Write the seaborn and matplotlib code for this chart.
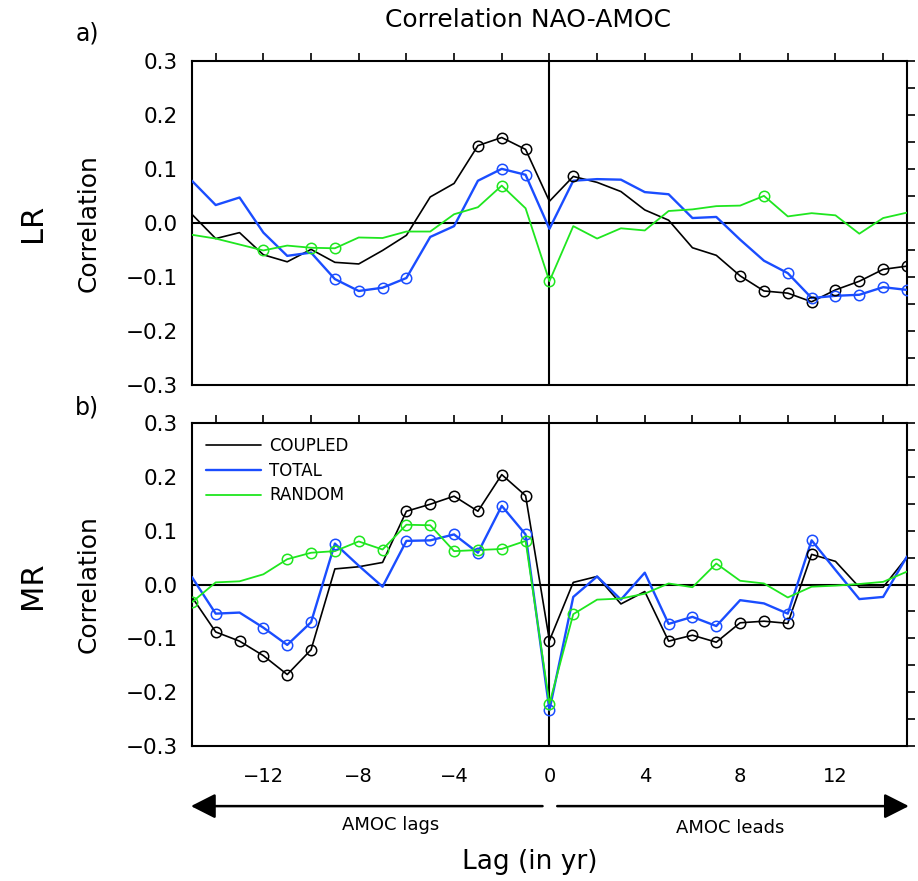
import numpy as np
import pandas as pd
import matplotlib
matplotlib.use("Agg")
import matplotlib.pyplot as plt
from matplotlib.patches import FancyArrowPatch
import seaborn as sns

# lags in years (negative: AMOC lags)
lags = list(range(-15, 16))

# LR panel
lr_coupled = [0.016, -0.029, -0.018, -0.059, -0.072, -0.049, -0.073, -0.076, -0.051, -0.023,
              0.048, 0.073, 0.143, 0.158, 0.136, 0.040, 0.086, 0.075, 0.058, 0.024, 0.005,
              -0.046, -0.060, -0.098, -0.126, -0.130, -0.146, -0.124, -0.108, -0.086, -0.080]
lr_total = [0.078, 0.033, 0.047, -0.018, -0.061, -0.055, -0.104, -0.126, -0.120, -0.102,
            -0.026, -0.006, 0.078, 0.100, 0.089, -0.011, 0.078, 0.081, 0.080, 0.057, 0.053,
            0.009, 0.011, -0.031, -0.070, -0.093, -0.139, -0.135, -0.133, -0.119, -0.124]
lr_random = [-0.022, -0.029, -0.040, -0.051, -0.042, -0.046, -0.047, -0.027, -0.028, -0.016,
             -0.016, 0.016, 0.029, 0.069, 0.027, -0.108, -0.006, -0.029, -0.010, -0.014, 0.022,
             0.025, 0.031, 0.032, 0.050, 0.012, 0.018, 0.014, -0.020, 0.009, 0.019]
lr_coupled_sig = [-3, -2, -1, 1, 8, 9, 10, 11, 12, 13, 14, 15]
lr_total_sig = [-9, -8, -7, -6, -2, -1, 10, 11, 12, 13, 14, 15]
lr_random_sig = [-12, -10, -9, -2, 0, 9]

# MR panel
mr_coupled = [-0.023, -0.088, -0.105, -0.132, -0.167, -0.121, 0.029, 0.033, 0.041, 0.136,
              0.149, 0.164, 0.136, 0.204, 0.165, -0.104, 0.004, 0.015, -0.036, -0.013, -0.105,
              -0.094, -0.107, -0.071, -0.068, -0.072, 0.056, 0.043, -0.005, -0.005, 0.051]
mr_total = [0.014, -0.054, -0.052, -0.080, -0.112, -0.070, 0.076, 0.035, -0.004, 0.081,
            0.082, 0.093, 0.059, 0.146, 0.093, -0.233, -0.023, 0.015, -0.028, 0.022, -0.073,
            -0.060, -0.077, -0.029, -0.035, -0.054, 0.082, 0.027, -0.027, -0.023, 0.052]
mr_random = [-0.033, 0.004, 0.006, 0.019, 0.047, 0.059, 0.062, 0.080, 0.065, 0.111,
             0.110, 0.062, 0.064, 0.066, 0.081, -0.221, -0.055, -0.028, -0.026, -0.017, 0.002,
             -0.005, 0.039, 0.007, 0.002, -0.024, -0.004, -0.002, 0.001, 0.005, 0.024]
mr_coupled_sig = [-14, -13, -12, -11, -10, -6, -5, -4, -3, -2, -1, 0, 5, 6, 7, 8, 9, 10, 11]
mr_total_sig = [-14, -12, -11, -10, -9, -6, -5, -4, -3, -2, -1, 0, 5, 6, 7, 10, 11]
mr_random_sig = [-15, -11, -10, -9, -8, -7, -6, -5, -4, -3, -2, -1, 0, 1, 7]

xticks = list(range(-14, 15, 2))
yticks = [-0.3, -0.25, -0.2, -0.15, -0.1, -0.05, 0.0, 0.05, 0.1, 0.15, 0.2, 0.25, 0.3]

colors = {"COUPLED": "black", "TOTAL": "#1a4dff", "RANDOM": "#1fe61f"}
widths = {"COUPLED": 1.2, "TOTAL": 1.7, "RANDOM": 1.3}

sns.set_style("white")
plt.rcParams['font.family'] = ['DejaVu Sans']
plt.rcParams['text.color'] = 'black'
plt.rcParams['axes.labelcolor'] = 'black'
plt.rcParams['xtick.color'] = 'black'
plt.rcParams['ytick.color'] = 'black'

fig = plt.figure(figsize=(9.18, 8.81), dpi=100)
ax_a = fig.add_axes([0.209, 0.563, 0.779, 0.368])
ax_b = fig.add_axes([0.209, 0.153, 0.779, 0.367])


def minus(s):
    return s.replace("-", "\u2212")


def panel(ax, series, sigs, legend=False):
    for (lab, vals), sig in zip(series.items(), sigs):
        df = pd.DataFrame({"lag": lags, "corr": vals})
        sns.lineplot(data=df, x="lag", y="corr", ax=ax, color=colors[lab],
                     lw=widths[lab], label=lab if legend else None, zorder=3)
        d = df[df["lag"].isin(sig)]
        ax.plot(d["lag"], d["corr"], "o", ms=7.5, mfc="none", mec=colors[lab],
                mew=1.1, zorder=4)
    ax.axhline(0, color="black", lw=1.5, zorder=2)
    ax.axvline(0, color="black", lw=1.5, zorder=2)
    ax.set_xlim(-15, 15)
    ax.set_ylim(-0.3, 0.3)
    ax.set_xticks(xticks)
    ax.set_xticklabels([minus(str(t)) if t % 4 == 0 else "" for t in xticks])
    ax.set_yticks(yticks)
    ax.set_yticklabels([minus(f"{v:.1f}") if round(v * 100) % 10 == 0 else "" for v in yticks])
    ax.tick_params(direction="out", length=6, width=1.2, top=True, right=True,
                   labelsize=14, pad=4)
    ax.tick_params(axis="x", pad=9)
    ax.tick_params(axis="y", labelright=False, labelsize=15.5)
    ax.set_xlabel("")
    ax.set_ylabel("Correlation", fontsize=18, labelpad=18)
    for s in ax.spines.values():
        s.set_linewidth(1.5)
        s.set_color("black")
    if legend:
        ax.legend(loc="upper left", frameon=False, fontsize=12, handlelength=3.3,
                  handletextpad=0.5, labelspacing=0.4, borderaxespad=0.45)


panel(ax_a, {"COUPLED": lr_coupled, "TOTAL": lr_total, "RANDOM": lr_random},
      [lr_coupled_sig, lr_total_sig, lr_random_sig])
ax_a.tick_params(axis="x", labelbottom=False)
panel(ax_b, {"COUPLED": mr_coupled, "TOTAL": mr_total, "RANDOM": mr_random},
      [mr_coupled_sig, mr_total_sig, mr_random_sig], legend=True)

fig.text(0.035, 0.747, "LR", rotation=90, fontsize=22, ha="center", va="center")
fig.text(0.035, 0.336, "MR", rotation=90, fontsize=22, ha="center", va="center")
fig.text(0.082, 0.962, "a)", fontsize=17, ha="left", va="center")
fig.text(0.082, 0.537, "b)", fontsize=17, ha="left", va="center")
fig.text(0.575, 0.977, "Correlation NAO-AMOC", fontsize=18, ha="center", va="center")

# arrows below the axis
arr = dict(arrowstyle="-|>,head_length=0.75,head_width=0.38", color="black", lw=1.8,
           shrinkA=0, shrinkB=0, mutation_scale=20, transform=fig.transFigure)
fig.add_artist(FancyArrowPatch((0.591, 0.085), (0.208, 0.085), **arr))
fig.add_artist(FancyArrowPatch((0.607, 0.085), (0.990, 0.085), **arr))
fig.text(0.425, 0.063, "AMOC lags", fontsize=13, ha="center", va="center")
fig.text(0.795, 0.060, "AMOC leads", fontsize=13, ha="center", va="center")
fig.text(0.577, 0.022, "Lag (in yr)", fontsize=19, ha="center", va="center")

fig.savefig("out.png", dpi=100)
